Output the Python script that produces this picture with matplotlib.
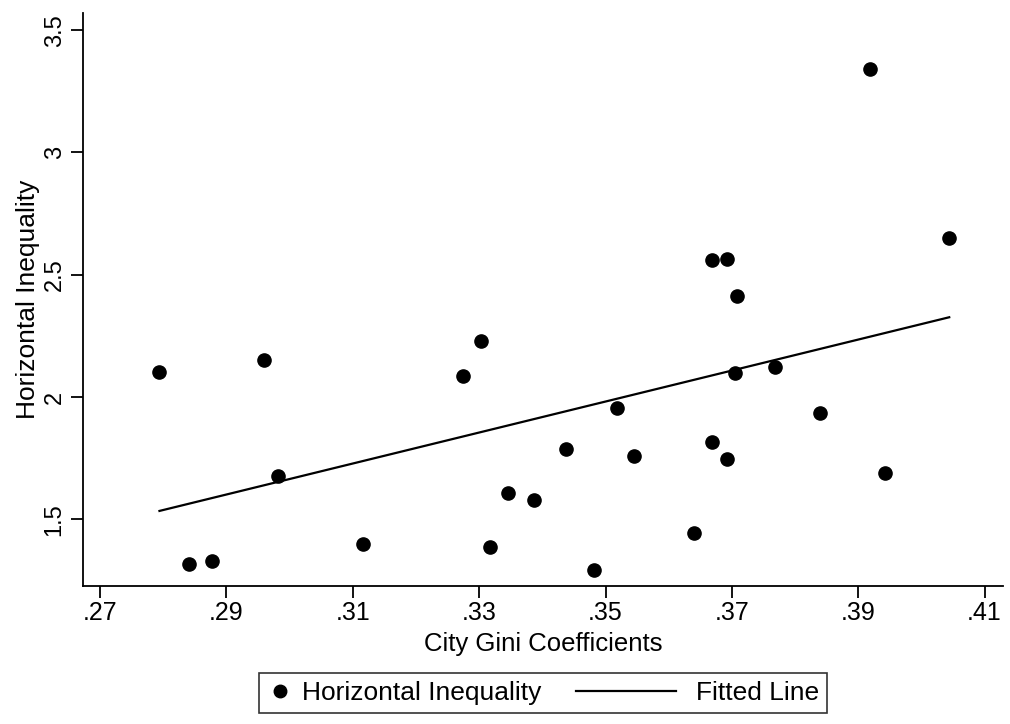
import matplotlib.pyplot as plt
from matplotlib.lines import Line2D
from matplotlib.legend_handler import HandlerLine2D

plt.rcParams["font.family"] = ["Liberation Sans", "DejaVu Sans"]

# City Gini coefficient vs horizontal inequality
gini = [0.2794, 0.2959, 0.2982, 0.2840, 0.2877, 0.3303, 0.3274, 0.3518, 0.3437,
        0.3545, 0.3346, 0.3387, 0.3116, 0.3317, 0.3482, 0.3919, 0.4043, 0.3668,
        0.3693, 0.3708, 0.3705, 0.3768, 0.3840, 0.3668, 0.3692, 0.3943, 0.3640]
hineq = [2.102, 2.153, 1.678, 1.316, 1.330, 2.229, 2.087, 1.956, 1.786,
         1.759, 1.606, 1.579, 1.399, 1.386, 1.293, 3.341, 2.649, 2.561,
         2.563, 2.414, 2.099, 2.123, 1.936, 1.816, 1.745, 1.690, 1.443]

# fitted line end points as drawn in the original
fit_x = [0.2794, 0.4044]
fit_y = [1.534, 2.326]

xticks = [0.27, 0.29, 0.31, 0.33, 0.35, 0.37, 0.39, 0.41]
xlabels = [".27", ".29", ".31", ".33", ".35", ".37", ".39", ".41"]
yticks = [1.5, 2, 2.5, 3, 3.5]
ylabels = ["1.5", "2", "2.5", "3", "3.5"]


class LongLine(HandlerLine2D):
    # stata style: the line key is longer than the marker key
    def get_xdata(self, legend, xdescent, ydescent, width, height, fontsize):
        x0 = -xdescent + width - 4.2 * fontsize
        x1 = -xdescent + width - 0.4 * fontsize
        return [x0, x1], [x0, x1]


fig = plt.figure(figsize=(10.1, 7.24), dpi=100)
ax = fig.add_axes([0.0822, 0.1906, 0.9108, 0.7914])

ax.plot(gini, hineq, "o", color="black", markersize=9.5, linestyle="none")
ax.plot(fit_x, fit_y, "-", color="black", linewidth=1.6)

ax.set_xlim(0.2673, 0.4129)
ax.set_ylim(1.227, 3.57)

ax.set_xticks(xticks)
ax.set_xticklabels(xlabels)
ax.set_yticks(yticks)
ax.set_yticklabels(ylabels, rotation=90, va="center")

for side in ["top", "right"]:
    ax.spines[side].set_visible(False)
for side in ["left", "bottom"]:
    ax.spines[side].set_linewidth(1.3)

ax.tick_params(axis="both", direction="out", length=8.5, width=1.3)
ax.tick_params(axis="x", labelsize=18, pad=2)
ax.tick_params(axis="y", labelsize=17, pad=4)

ax.set_xlabel("City Gini Coefficients", fontsize=18.5, va="top")
ax.xaxis.set_label_coords(0.5, -0.080)
ax.set_ylabel("Horizontal Inequality", fontsize=19)
ax.yaxis.set_label_coords(-0.047, 0.5)

marker_key = Line2D([], [], marker="o", color="black", linestyle="none", markersize=9)
line_key = Line2D([], [], color="black", linewidth=1.6)
leg = ax.legend([marker_key, line_key], ["Horizontal Inequality", "Fitted Line"],
                handler_map={line_key: LongLine()},
                loc="upper center", bbox_to_anchor=(0.5, -0.152), ncol=2,
                fontsize=19, frameon=True, fancybox=False, edgecolor="black",
                handlelength=1.0, columnspacing=4.5, handletextpad=0.34,
                borderpad=0.3, borderaxespad=0)
leg.get_frame().set_linewidth(1.2)

plt.savefig("out.png", dpi=100)
